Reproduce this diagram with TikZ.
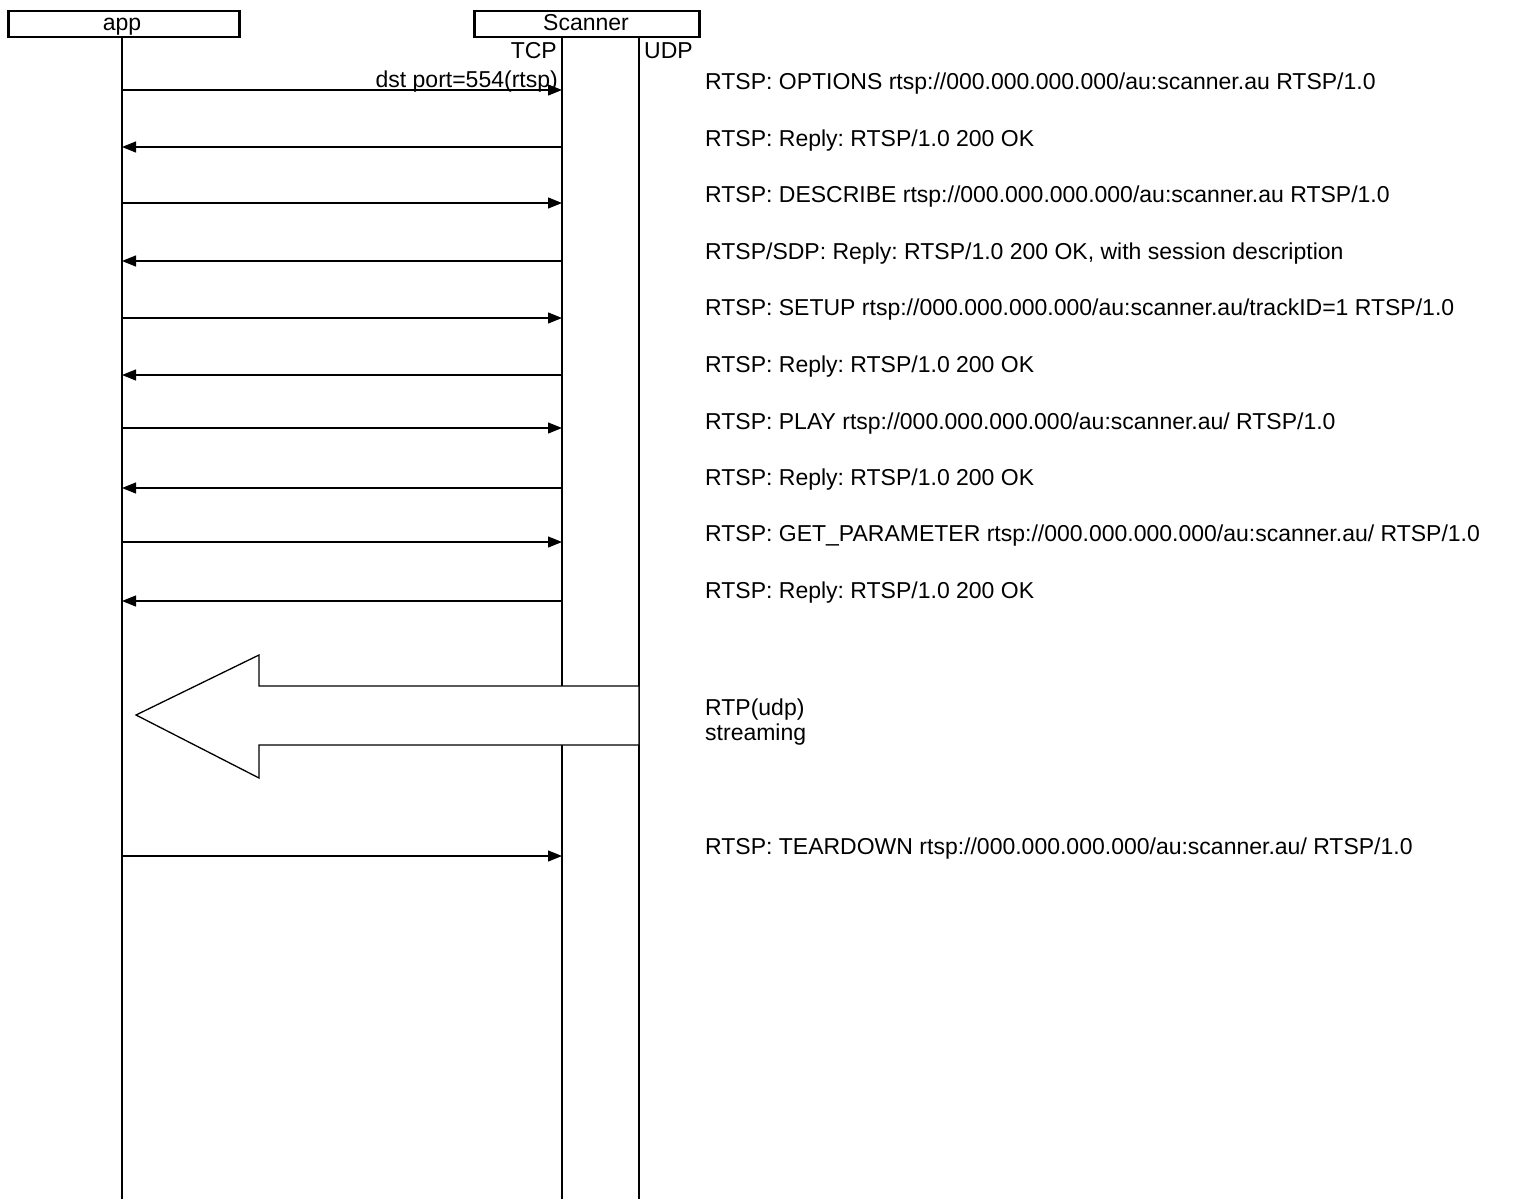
\documentclass[tikz,border=0pt]{standalone}
\usepackage{fontspec}
\setmainfont{Liberation Sans}
\usetikzlibrary{arrows.meta}
\begin{document}
\frenchspacing
\begin{tikzpicture}[x=1pt,y=-1pt,
  every node/.style={font=\fontsize{23}{26}\selectfont, inner sep=0pt},
  actor/.style={draw, line width=2.5pt, minimum height=26pt, anchor=north west},
  life/.style={line width=2.5pt},
  msg/.style={line width=1.2pt, -{Triangle[length=14pt,width=11pt]}},
  lbl/.style={anchor=base west},
  bigarrow/.style={draw, fill=white, line width=1.3pt, line join=miter}]
\useasboundingbox (0,0) rectangle (1536,1199);
% actors
\node[actor, minimum width=231pt] (app) at (7,10) {};
\node[anchor=base] (appl) at (122,31) {app};
\node[actor, minimum width=225pt] (scn) at (473,10) {};
\node[anchor=base] (scnl) at (586,31) {Scanner};
% lifelines
\coordinate (appT) at (122,36);
\coordinate (appB) at (122,1199);
\coordinate (tcpT) at (562,36);
\coordinate (tcpB) at (562,1199);
\coordinate (udpT) at (639,36);
\coordinate (udpB) at (639,1199);
\draw[life] (appT) -- (appB);
\draw[life] (tcpT) -- (tcpB);
\draw[life] (udpT) -- (udpB);
\node[anchor=base east] (tcpl) at (557,59) {TCP};
\node[anchor=base west] (udpl) at (644,59) {UDP};
\node[anchor=base east] (dst) at (558,88) {dst port=554(rtsp)};
% messages
\foreach \y/\d in {90/r,147/l,203/r,261/l,318/r,375/l,428/r,488/l,542/r,601/l,856/r}{
  \coordinate (a\y) at (122,\y);
  \coordinate (t\y) at (562,\y);
  \if r\d \draw[msg] (a\y) -- (t\y); \else \draw[msg] (t\y) -- (a\y); \fi
}
% labels
\node[lbl] (m1) at (705,89) {RTSP: OPTIONS rtsp://000.000.000.000/au:scanner.au RTSP/1.0};
\node[lbl] (m2) at (705,146) {RTSP: Reply: RTSP/1.0 200 OK};
\node[lbl] (m3) at (705,202) {RTSP: DESCRIBE rtsp://000.000.000.000/au:scanner.au RTSP/1.0};
\node[lbl] (m4) at (705,259) {RTSP/SDP: Reply: RTSP/1.0 200 OK, with session description};
\node[lbl] (m5) at (705,315) {RTSP: SETUP rtsp://000.000.000.000/au:scanner.au/trackID=1 RTSP/1.0};
\node[lbl] (m6) at (705,372) {RTSP: Reply: RTSP/1.0 200 OK};
\node[lbl] (m7) at (705,429) {RTSP: PLAY rtsp://000.000.000.000/au:scanner.au/ RTSP/1.0};
\node[lbl] (m8) at (705,485) {RTSP: Reply: RTSP/1.0 200 OK};
\node[lbl] (m9) at (705,541) {RTSP: GET\_PARAMETER rtsp://000.000.000.000/au:scanner.au/ RTSP/1.0};
\node[lbl] (m10) at (705,598) {RTSP: Reply: RTSP/1.0 200 OK};
\node[lbl] (rtp) at (705,715) {RTP(udp)};
\node[lbl] (strm) at (705,740) {streaming};
\node[lbl] (m11) at (705,854) {RTSP: TEARDOWN rtsp://000.000.000.000/au:scanner.au/ RTSP/1.0};
% big streaming arrow
\coordinate (bs1) at (639,686);
\coordinate (bs2) at (259,686);
\coordinate (bh1) at (259,655);
\coordinate (btip) at (136,715);
\coordinate (bh2) at (259,778);
\coordinate (bs3) at (259,745);
\coordinate (bs4) at (639,745);
\draw[bigarrow] (bs1) -- (bs2) -- (bh1) -- (btip) -- (bh2) -- (bs3) -- (bs4) -- cycle;
\end{tikzpicture}
\end{document}
